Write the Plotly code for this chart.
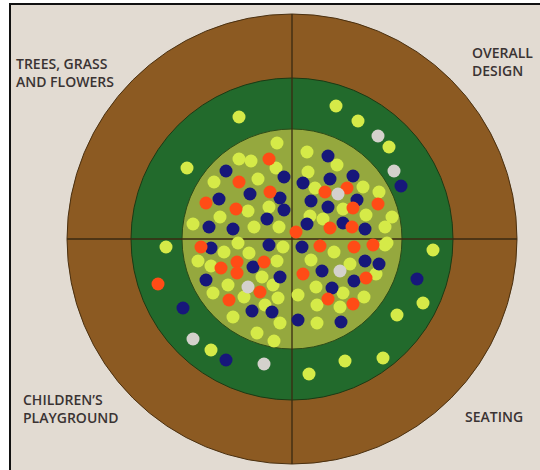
import plotly.graph_objects as go

# Dot-vote positions (image pixel coordinates)
yellow_x = [187, 239, 166, 211, 309, 345, 383, 397, 423, 433, 336, 358, 389,
            277, 239, 251, 276, 214, 258, 248, 269, 220, 193, 254, 279, 238, 224, 283,
            307, 337, 308, 315, 363, 379, 343, 392, 366, 310, 323, 385, 387, 334, 385,
            311, 350, 376, 316, 298, 343, 364, 317, 340, 317,
            198, 211, 277, 228, 262, 273, 213, 244, 265, 278, 233, 280, 257, 274, 249]
yellow_y = [168, 117, 247, 350, 374, 361, 358, 315, 303, 250, 106, 121, 147,
            143, 159, 161, 168, 182, 179, 211, 207, 217, 224, 227, 227, 243, 252, 247,
            152, 165, 172, 188, 187, 192, 209, 217, 215, 216, 219, 227, 243, 252, 245,
            260, 264, 274, 287, 295, 293, 297, 305, 307, 323,
            261, 266, 261, 285, 277, 285, 293, 297, 305, 298, 317, 323, 333, 341, 253]

navy_x = [183, 226, 417, 401,
          226, 284, 250, 219, 280, 284, 267, 209, 233, 269, 211,
          328, 353, 330, 303, 357, 311, 328, 343, 307, 365, 302,
          365, 379, 322, 354, 332, 298, 341,
          253, 206, 280, 252, 272]
navy_y = [308, 360, 279, 186,
          171, 177, 194, 199, 198, 210, 219, 227, 229, 245, 248,
          156, 176, 179, 183, 200, 201, 207, 223, 224, 229, 247,
          261, 264, 271, 281, 288, 320, 322,
          267, 280, 277, 311, 312]

orange_x = [158,
            269, 239, 270, 206, 236, 201,
            347, 325, 353, 378, 330, 352, 296, 320, 354, 373,
            303, 366, 328, 353,
            221, 237, 264, 237, 260, 229]
orange_y = [284,
            159, 182, 192, 203, 209, 247,
            188, 192, 208, 204, 228, 227, 232, 246, 247, 245,
            274, 278, 299, 304,
            268, 262, 262, 273, 292, 300]

gray_x = [193, 264, 378, 394, 338, 340, 248]
gray_y = [339, 364, 136, 171, 194, 271, 287]

labels = ["TREES, GRASS", "AND FLOWERS", "OVERALL", "DESIGN",
          "CHILDREN\u2019S", "PLAYGROUND", "SEATING"]
label_x = [14, 14, 470, 470, 21, 21, 463]
label_y = [63, 81, 52, 70, 399, 417, 416]

CX, CY = 292, 239
R_OUT, R_MID, R_IN = 225, 161, 110

fig = go.Figure()

series = [
    (yellow_x, yellow_y, "#d5ea48"),
    (navy_x, navy_y, "#17177a"),
    (orange_x, orange_y, "#ff4c16"),
    (gray_x, gray_y, "#d4d1cc"),
]
for xs, ys, col in series:
    fig.add_trace(go.Scatter(
        x=xs, y=ys, mode="markers",
        marker=dict(size=13, color=col, line=dict(width=0)),
        hoverinfo="skip", showlegend=False))

shapes = [
    dict(type="rect", x0=10, y0=4, x1=540, y1=470, fillcolor="#e2dbd2",
         line=dict(width=0), layer="below"),
    dict(type="line", x0=10, y0=3, x1=10, y1=470, line=dict(color="#111", width=2), layer="below"),
    dict(type="line", x0=10, y0=4, x1=540, y1=4, line=dict(color="#111", width=2), layer="below"),
    dict(type="circle", x0=CX - R_OUT, y0=CY - R_OUT, x1=CX + R_OUT, y1=CY + R_OUT,
         fillcolor="#8c5a22", line=dict(color="#4a3010", width=1), layer="below"),
    dict(type="circle", x0=CX - R_MID, y0=CY - R_MID, x1=CX + R_MID, y1=CY + R_MID,
         fillcolor="#226a2c", line=dict(color="#1b3a14", width=1), layer="below"),
    dict(type="circle", x0=CX - R_IN, y0=CY - R_IN, x1=CX + R_IN, y1=CY + R_IN,
         fillcolor="#95a83e", line=dict(color="#2c4a18", width=1), layer="below"),
    dict(type="line", x0=CX, y0=CY - R_OUT, x1=CX, y1=CY + R_OUT,
         line=dict(color="#3a2a12", width=1.3), layer="below"),
    dict(type="line", x0=CX - R_OUT, y0=CY, x1=CX + R_OUT, y1=CY,
         line=dict(color="#3a2a12", width=1.3), layer="below"),
]

annotations = [
    dict(x=x, y=y, text=t, showarrow=False, xanchor="left", yanchor="middle",
         font=dict(family="Open Sans", size=14, color="#3a3333", weight=600))
    for t, x, y in zip(labels, label_x, label_y)
]

fig.update_layout(
    width=540, height=470,
    margin=dict(l=0, r=0, t=0, b=0),
    paper_bgcolor="white", plot_bgcolor="white",
    xaxis=dict(range=[0, 540], visible=False, fixedrange=True),
    yaxis=dict(range=[470, 0], visible=False, fixedrange=True),
    shapes=shapes, annotations=annotations,
)

fig.write_html("out.html", config={"displayModeBar": False, "staticPlot": True},
               post_script="document.body.style.margin='0px';document.body.style.overflow='hidden';")
